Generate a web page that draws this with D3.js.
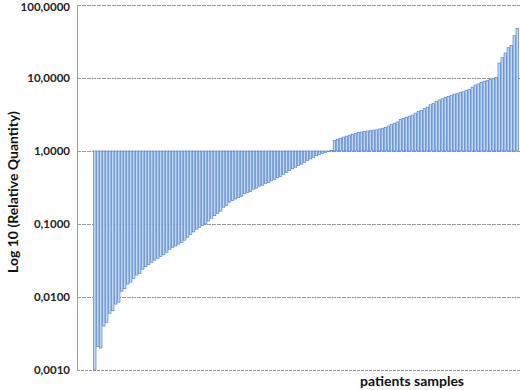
<!DOCTYPE html>
<html lang="en">
    <head>
        <meta charset="utf-8">
        <title>Relative Quantity</title>
        <script type="text/javascript" src="https://d3js.org/d3.v7.min.js"></script>
        <style type="text/css">
            body {
                margin: 0;
                background-color: white;
            }
            .tick_label {
                font-family: Lato, "Open Sans", sans-serif;
                font-weight: bold;
                font-size: 11.5px;
                fill: #222;
            }
            .axis_title {
                font-family: Lato, "Open Sans", sans-serif;
                font-weight: bold;
                font-size: 14px;
                fill: #111;
            }
        </style>
    </head>
    <body>
        <svg width="520" height="390" id="svg1"></svg>

        <script type="text/javascript">
            const svg = d3.select("#svg1");

            // sorted relative quantities, one per patient sample
            const belowOne = [0.001, 0.0021, 0.002, 0.004, 0.0045, 0.006, 0.0065, 0.008, 0.0085, 0.012,
                0.013, 0.015, 0.016, 0.018, 0.02, 0.021, 0.024, 0.026, 0.028, 0.03,
                0.032, 0.034, 0.036, 0.038, 0.041, 0.045, 0.048, 0.05, 0.053, 0.056,
                0.06, 0.066, 0.072, 0.078, 0.085, 0.09, 0.095, 0.1, 0.11, 0.12,
                0.13, 0.14, 0.15, 0.17, 0.18, 0.2, 0.21, 0.22, 0.23, 0.24,
                0.26, 0.27, 0.28, 0.3, 0.31, 0.33, 0.34, 0.36, 0.37, 0.39,
                0.41, 0.43, 0.45, 0.48, 0.51, 0.54, 0.57, 0.6, 0.63, 0.66,
                0.7, 0.74, 0.78, 0.82, 0.86, 0.9, 0.93, 0.96, 0.98];
            const aboveOne = [1.02, 1.4, 1.45, 1.5, 1.55, 1.6, 1.65, 1.7, 1.75, 1.8,
                1.82, 1.85, 1.88, 1.9, 1.93, 1.95, 2.0, 2.05, 2.1, 2.2,
                2.3, 2.4, 2.5, 2.7, 2.8, 2.9, 3.0, 3.1, 3.3, 3.5,
                3.6, 3.8, 4.0, 4.3, 4.5, 4.8, 5.0, 5.2, 5.4, 5.6,
                5.8, 6.0, 6.1, 6.3, 6.5, 6.8, 7.0, 7.5, 8.0, 8.3,
                8.7, 9.0, 9.3, 9.6, 9.9, 10.2, 16, 19, 22, 26,
                28, 38, 48];
            const values = belowOne.concat(aboveOne);
            const tickValues = [0.001, 0.01, 0.1, 1, 10, 100];

            const x = d3.scaleBand()
                .domain(d3.range(values.length))
                .range([93, 519])
                .padding(0.2);

            const y = d3.scaleLog()
                .domain([0.001, 100])
                .range([370, 5]);

            const fmt = d => d3.format(".4f")(d).replace(".", ",");

            // gridlines
            svg.selectAll(".grid")
                .data(tickValues)
                .enter()
                .append("line")
                .attr("x1", 77)
                .attr("x2", 520)
                .attr("y1", d => y(d) + 0.5)
                .attr("y2", d => y(d) + 0.5)
                .style("stroke", "#9a9a9a")
                .style("stroke-width", 1)
                .style("stroke-dasharray", d => d === 0.001 ? "3,1" : "4,1");

            // left axis line
            svg.append("line")
                .attr("x1", 77.5).attr("x2", 77.5)
                .attr("y1", y(100)).attr("y2", y(0.001))
                .style("stroke", "#9a9a9a");

            // bars from 1 up or down
            svg.selectAll("rect")
                .data(values)
                .enter()
                .append("rect")
                .attr("x", (d, i) => x(i))
                .attr("width", x.bandwidth())
                .attr("y", d => Math.min(y(d), y(1)))
                .attr("height", d => Math.abs(y(d) - y(1)))
                .style("fill", "#c3d7f1")
                .style("stroke", "#4f82cf")
                .style("stroke-width", 0.7);

            // tick labels (top one kept inside the picture)
            svg.selectAll(".tick_label")
                .data(tickValues)
                .enter()
                .append("text")
                .attr("class", "tick_label")
                .attr("x", 70)
                .attr("y", d => Math.max(y(d), 7))
                .attr("dy", "0.35em")
                .attr("text-anchor", "end")
                .text(fmt);

            // axis titles
            svg.append("text")
                .attr("class", "axis_title")
                .attr("transform", "translate(18,192) rotate(-90)")
                .attr("text-anchor", "middle")
                .text("Log 10 (Relative Quantity)");

            svg.append("text")
                .attr("class", "axis_title")
                .attr("x", 412)
                .attr("y", 386)
                .attr("text-anchor", "middle")
                .text("patients samples");
        </script>
    </body>
</html>
